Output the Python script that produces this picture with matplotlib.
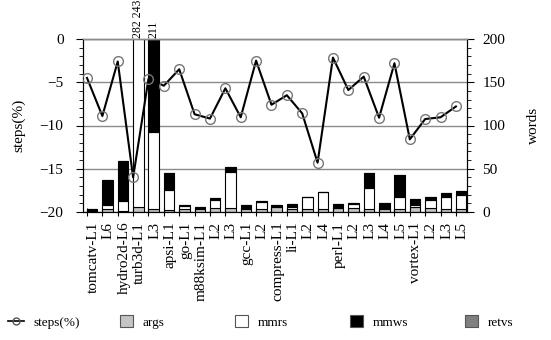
import matplotlib
matplotlib.use("Agg")
import matplotlib.pyplot as plt
from matplotlib.lines import Line2D
from matplotlib.patches import Patch
from matplotlib.ticker import MultipleLocator
import numpy as np

plt.rcParams['font.family'] = ['Liberation Serif', 'DejaVu Serif']

categories = ["tomcatv-L1", "L6", "hydro2d-L6", "turb3d-L1", "L3", "apsi-L1", "go-L1",
              "m88ksim-L1", "L2", "L3", "gcc-L1", "L2", "compress-L1", "li-L1", "L2", "L4",
              "perl-L1", "L2", "L3", "L4", "L5", "vortex-L1", "L2", "L3", "L5"]

steps = [-4.5, -8.9, -2.6, -16.0, -4.6, -5.4, -3.5, -8.7, -9.2, -5.7, -9.05, -2.5,
         -7.6, -6.5, -8.6, -14.3, -2.15, -5.9, -4.35, -9.1, -2.8, -11.6, -9.25, -9.05, -7.8]

args = [0.5, 4, 1, 6, 3, 2, 3.5, 3, 4.3, 4.3, 4, 4, 5.4, 4, 4, 4, 4.3, 4.3, 4, 4, 4,
        5.4, 4.5, 4, 4]
mmrs = [0, 4, 12, 243, 90, 24, 3.5, 2, 9.7, 42.3, 0.5, 7.5, 1.5, 1.4, 13.7, 19.5, 0,
        4.6, 23.4, 1, 13, 2.7, 9.4, 13.7, 15.7]
mmws = [2.5, 29, 46, 33, 118, 18.7, 1, 1, 2.6, 5.8, 3.5, 1.2, 1, 3.8, 0, 0, 4.6, 1.9,
        17.3, 5.8, 25.8, 6.5, 3.8, 3.9, 4.9]
retvs = [0] * 25

overflow_labels = [(3, "282 243"), (4, "211")]

W, H = 551, 340
fig = plt.figure(figsize=(W / 100, H / 100), dpi=100)
ax = fig.add_axes([83 / W, 1 - 212 / H, (467 - 83) / W, (212 - 39) / H])
ax2 = ax.twinx()

x = np.arange(len(categories))
bw = 0.68
colors = {'args': '#c4c4c4', 'mmrs': 'white', 'mmws': 'black', 'retvs': '#808080'}
bottom = np.zeros(len(categories))
for name, vals in [('args', args), ('mmrs', mmrs), ('mmws', mmws), ('retvs', retvs)]:
    v = np.array(vals, dtype=float)
    ax2.bar(x, v, width=bw, bottom=bottom, align='edge', color=colors[name],
            edgecolor='black', linewidth=0.8, zorder=2)
    bottom += v

ax2.set_ylim(0, 200)
ax2.yaxis.set_major_locator(MultipleLocator(50))
ax2.yaxis.set_minor_locator(MultipleLocator(10))
ax2.set_axisbelow(True)
ax2.grid(axis='y', color='#8a8a8a', linewidth=1.0, zorder=0)

ax.plot(x, steps, color='black', linewidth=1.5, marker='o', markersize=7,
        markerfacecolor='none', markeredgecolor='#777777', markeredgewidth=1.0, zorder=5)
ax.set_ylim(-20, 0)
ax.set_xlim(-0.26, 24.72)
ax.yaxis.set_major_locator(MultipleLocator(5))
ax.yaxis.set_minor_locator(MultipleLocator(1))
ax.set_zorder(ax2.get_zorder() + 1)
ax.patch.set_visible(False)

ax.set_xticks(x)
ax.set_xticklabels([])
ax.set_xticks(x + 0.4, minor=True)
ax.set_xticklabels(categories, minor=True, rotation=90, fontsize=11)
ax.tick_params(axis='x', which='major', direction='inout', length=6, width=0.8)
ax.tick_params(axis='x', which='minor', length=0, pad=7)

ax.tick_params(axis='y', which='major', direction='out', length=5, width=0.8, labelsize=11, pad=9)
ax.tick_params(axis='y', which='minor', direction='out', length=3, width=0.6)
ax2.tick_params(axis='y', which='major', direction='out', length=5, width=0.8, labelsize=11, pad=6)
ax2.tick_params(axis='y', which='minor', direction='out', length=3, width=0.6)

for a in (ax, ax2):
    a.spines['top'].set_color('#8a8a8a')
    a.spines['top'].set_linewidth(1.0)

ax.set_ylabel("steps(%)", fontsize=11)
ax.yaxis.set_label_coords(-(83 - 25) / (467 - 83), 0.5)
ax2.set_ylabel("words", fontsize=11)
ax2.yaxis.set_label_coords(1 + (527 - 467) / (467 - 83), 0.5)

for idx, txt in overflow_labels:
    ax.text(idx + 0.35, 0.15, txt, rotation=90, fontsize=8.5, ha='center', va='bottom',
            clip_on=False)

# legends
ly = 1 - 322 / H
leg_items = [
    (8, Line2D([], [], color='black', linewidth=1.2, marker='o', markersize=5,
               markerfacecolor='none', markeredgecolor='#555555'), "steps(%)", 1.2),
    (120, Patch(facecolor=colors['args'], edgecolor='#555555', linewidth=0.8), "args", 1.0),
    (235, Patch(facecolor=colors['mmrs'], edgecolor='#555555', linewidth=0.8), "mmrs", 1.0),
    (350, Patch(facecolor=colors['mmws'], edgecolor='#555555', linewidth=0.8), "mmws", 1.0),
    (465, Patch(facecolor=colors['retvs'], edgecolor='#555555', linewidth=0.8), "retvs", 1.0),
]
for px, h, lab, hl in leg_items:
    fig.legend(handles=[h], labels=[lab], loc='center left', bbox_to_anchor=(px / W, ly),
               frameon=False, fontsize=9.5, handlelength=hl, handleheight=0.95,
               handletextpad=0.7, borderpad=0, borderaxespad=0)

fig.savefig("out.png", dpi=100)
